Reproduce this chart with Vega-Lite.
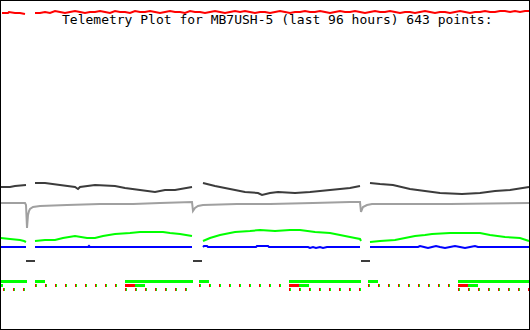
{
  "$schema": "https://vega.github.io/schema/vega-lite/v6.json",
  "width": 530,
  "height": 330,
  "autosize": {"type": "none"},
  "padding": 0,
  "background": "white",
  "config": {"view": {"stroke": "black", "strokeWidth": 2}},
  "title": {
    "text": "Telemetry Plot for MB7USH-5 (last 96 hours) 643 points:",
    "font": "DejaVu Sans Mono",
    "fontSize": 13,
    "fontWeight": "normal",
    "color": "black",
    "anchor": "start",
    "frame": "group",
    "dx": 62,
    "offset": -37,
    "baseline": "alphabetic"
  },
  "datasets": {
    "lines": [
      {"k":"A1","g":1,"x":2,"y":13},{"k":"A1","g":1,"x":8,"y":13},{"k":"A1","g":1,"x":9,"y":12},{"k":"A1","g":1,"x":15,"y":13},{"k":"A1","g":1,"x":20,"y":13},{"k":"A1","g":1,"x":25,"y":14},
      {"k":"A1","g":2,"x":35,"y":13},{"k":"A1","g":2,"x":40,"y":13},{"k":"A1","g":2,"x":45,"y":12},{"k":"A1","g":2,"x":50,"y":13},{"k":"A1","g":2,"x":55,"y":11},{"k":"A1","g":2,"x":60,"y":12},{"k":"A1","g":2,"x":65,"y":13},{"k":"A1","g":2,"x":70,"y":12},{"k":"A1","g":2,"x":75,"y":11},{"k":"A1","g":2,"x":80,"y":12},
      {"k":"A1","g":2,"x":85,"y":13},{"k":"A1","g":2,"x":90,"y":12},{"k":"A1","g":2,"x":95,"y":12},{"k":"A1","g":2,"x":100,"y":11},{"k":"A1","g":2,"x":105,"y":12},{"k":"A1","g":2,"x":110,"y":13},{"k":"A1","g":2,"x":115,"y":11},{"k":"A1","g":2,"x":120,"y":12},{"k":"A1","g":2,"x":125,"y":12},{"k":"A1","g":2,"x":130,"y":13},
      {"k":"A1","g":2,"x":135,"y":11},{"k":"A1","g":2,"x":140,"y":12},{"k":"A1","g":2,"x":145,"y":12},{"k":"A1","g":2,"x":150,"y":11},{"k":"A1","g":2,"x":155,"y":12},{"k":"A1","g":2,"x":160,"y":13},{"k":"A1","g":2,"x":165,"y":12},{"k":"A1","g":2,"x":170,"y":11},{"k":"A1","g":2,"x":175,"y":12},{"k":"A1","g":2,"x":180,"y":12},
      {"k":"A1","g":2,"x":185,"y":13},{"k":"A1","g":2,"x":190,"y":11},{"k":"A1","g":2,"x":195,"y":12},{"k":"A1","g":2,"x":200,"y":12},{"k":"A1","g":2,"x":205,"y":13},{"k":"A1","g":2,"x":210,"y":12},{"k":"A1","g":2,"x":215,"y":11},{"k":"A1","g":2,"x":220,"y":12},{"k":"A1","g":2,"x":225,"y":13},{"k":"A1","g":2,"x":230,"y":12},
      {"k":"A1","g":2,"x":235,"y":11},{"k":"A1","g":2,"x":240,"y":12},{"k":"A1","g":2,"x":245,"y":11},{"k":"A1","g":2,"x":250,"y":12},{"k":"A1","g":2,"x":255,"y":13},{"k":"A1","g":2,"x":260,"y":12},{"k":"A1","g":2,"x":265,"y":12},{"k":"A1","g":2,"x":270,"y":13},{"k":"A1","g":2,"x":275,"y":12},{"k":"A1","g":2,"x":280,"y":11},
      {"k":"A1","g":2,"x":285,"y":12},{"k":"A1","g":2,"x":290,"y":13},{"k":"A1","g":2,"x":295,"y":12},{"k":"A1","g":2,"x":300,"y":12},{"k":"A1","g":2,"x":305,"y":11},{"k":"A1","g":2,"x":310,"y":12},{"k":"A1","g":2,"x":315,"y":12},{"k":"A1","g":2,"x":320,"y":11},{"k":"A1","g":2,"x":325,"y":12},{"k":"A1","g":2,"x":330,"y":13},
      {"k":"A1","g":2,"x":335,"y":12},{"k":"A1","g":2,"x":340,"y":11},{"k":"A1","g":2,"x":345,"y":12},{"k":"A1","g":2,"x":350,"y":12},{"k":"A1","g":2,"x":355,"y":11},{"k":"A1","g":2,"x":360,"y":12},{"k":"A1","g":2,"x":365,"y":13},{"k":"A1","g":2,"x":370,"y":12},{"k":"A1","g":2,"x":375,"y":11},{"k":"A1","g":2,"x":380,"y":12},
      {"k":"A1","g":2,"x":385,"y":12},{"k":"A1","g":2,"x":390,"y":11},{"k":"A1","g":2,"x":395,"y":12},{"k":"A1","g":2,"x":400,"y":13},{"k":"A1","g":2,"x":405,"y":12},{"k":"A1","g":2,"x":410,"y":12},{"k":"A1","g":2,"x":415,"y":13},{"k":"A1","g":2,"x":420,"y":12},{"k":"A1","g":2,"x":425,"y":11},{"k":"A1","g":2,"x":430,"y":12},
      {"k":"A1","g":2,"x":435,"y":13},{"k":"A1","g":2,"x":440,"y":12},{"k":"A1","g":2,"x":445,"y":12},{"k":"A1","g":2,"x":450,"y":13},{"k":"A1","g":2,"x":455,"y":12},{"k":"A1","g":2,"x":460,"y":11},{"k":"A1","g":2,"x":465,"y":12},{"k":"A1","g":2,"x":470,"y":13},{"k":"A1","g":2,"x":475,"y":12},{"k":"A1","g":2,"x":480,"y":12},
      {"k":"A1","g":2,"x":485,"y":11},{"k":"A1","g":2,"x":490,"y":12},{"k":"A1","g":2,"x":495,"y":12},{"k":"A1","g":2,"x":500,"y":11},{"k":"A1","g":2,"x":505,"y":11},{"k":"A1","g":2,"x":510,"y":12},{"k":"A1","g":2,"x":515,"y":11},{"k":"A1","g":2,"x":520,"y":12},{"k":"A1","g":2,"x":525,"y":11},{"k":"A1","g":2,"x":529,"y":11},

      {"k":"A2","g":1,"x":1,"y":187},{"k":"A2","g":1,"x":10,"y":187},{"k":"A2","g":1,"x":15,"y":186},{"k":"A2","g":1,"x":26,"y":185},
      {"k":"A2","g":2,"x":35,"y":183},{"k":"A2","g":2,"x":45,"y":183},{"k":"A2","g":2,"x":60,"y":185},{"k":"A2","g":2,"x":75,"y":187},{"k":"A2","g":2,"x":78,"y":189},{"k":"A2","g":2,"x":80,"y":187},{"k":"A2","g":2,"x":95,"y":185},{"k":"A2","g":2,"x":115,"y":186},{"k":"A2","g":2,"x":125,"y":188},{"k":"A2","g":2,"x":140,"y":190},{"k":"A2","g":2,"x":155,"y":192},{"k":"A2","g":2,"x":165,"y":190},{"k":"A2","g":2,"x":175,"y":190},{"k":"A2","g":2,"x":192,"y":187},
      {"k":"A2","g":3,"x":203,"y":183},{"k":"A2","g":3,"x":215,"y":186},{"k":"A2","g":3,"x":230,"y":189},{"k":"A2","g":3,"x":245,"y":192},{"k":"A2","g":3,"x":258,"y":193},{"k":"A2","g":3,"x":262,"y":195},{"k":"A2","g":3,"x":270,"y":193},{"k":"A2","g":3,"x":278,"y":192},{"k":"A2","g":3,"x":295,"y":193},{"k":"A2","g":3,"x":310,"y":192},{"k":"A2","g":3,"x":330,"y":190},{"k":"A2","g":3,"x":350,"y":188},{"k":"A2","g":3,"x":360,"y":186},
      {"k":"A2","g":4,"x":370,"y":183},{"k":"A2","g":4,"x":380,"y":184},{"k":"A2","g":4,"x":393,"y":185},{"k":"A2","g":4,"x":410,"y":189},{"k":"A2","g":4,"x":425,"y":191},{"k":"A2","g":4,"x":440,"y":193},{"k":"A2","g":4,"x":462,"y":194},{"k":"A2","g":4,"x":480,"y":193},{"k":"A2","g":4,"x":495,"y":191},{"k":"A2","g":4,"x":510,"y":190},{"k":"A2","g":4,"x":529,"y":187},

      {"k":"A3","g":1,"x":1,"y":203},{"k":"A3","g":1,"x":25,"y":203},{"k":"A3","g":1,"x":26,"y":205},{"k":"A3","g":1,"x":27,"y":228},{"k":"A3","g":1,"x":28,"y":215},{"k":"A3","g":1,"x":29,"y":211},{"k":"A3","g":1,"x":30,"y":209},{"k":"A3","g":1,"x":33,"y":207},{"k":"A3","g":1,"x":40,"y":206},{"k":"A3","g":1,"x":67,"y":205},{"k":"A3","g":1,"x":100,"y":204},{"k":"A3","g":1,"x":133,"y":204},{"k":"A3","g":1,"x":160,"y":203},{"k":"A3","g":1,"x":192,"y":202},
      {"k":"A3","g":1,"x":193,"y":211},{"k":"A3","g":1,"x":195,"y":208},{"k":"A3","g":1,"x":198,"y":206},{"k":"A3","g":1,"x":203,"y":205},{"k":"A3","g":1,"x":237,"y":204},{"k":"A3","g":1,"x":270,"y":204},{"k":"A3","g":1,"x":313,"y":203},{"k":"A3","g":1,"x":350,"y":202},{"k":"A3","g":1,"x":360,"y":202},
      {"k":"A3","g":1,"x":361,"y":212},{"k":"A3","g":1,"x":363,"y":207},{"k":"A3","g":1,"x":367,"y":205},{"k":"A3","g":1,"x":372,"y":204},{"k":"A3","g":1,"x":450,"y":204},{"k":"A3","g":1,"x":529,"y":203},

      {"k":"A4","g":1,"x":1,"y":238},{"k":"A4","g":1,"x":10,"y":239},{"k":"A4","g":1,"x":20,"y":240},{"k":"A4","g":1,"x":24,"y":241},{"k":"A4","g":1,"x":26,"y":242},
      {"k":"A4","g":2,"x":35,"y":241},{"k":"A4","g":2,"x":45,"y":240},{"k":"A4","g":2,"x":55,"y":240},{"k":"A4","g":2,"x":63,"y":238},{"k":"A4","g":2,"x":75,"y":236},{"k":"A4","g":2,"x":87,"y":238},{"k":"A4","g":2,"x":95,"y":238},{"k":"A4","g":2,"x":103,"y":236},{"k":"A4","g":2,"x":115,"y":234},{"k":"A4","g":2,"x":130,"y":233},{"k":"A4","g":2,"x":140,"y":232},{"k":"A4","g":2,"x":163,"y":232},{"k":"A4","g":2,"x":170,"y":233},{"k":"A4","g":2,"x":180,"y":234},{"k":"A4","g":2,"x":192,"y":236},
      {"k":"A4","g":3,"x":203,"y":241},{"k":"A4","g":3,"x":210,"y":238},{"k":"A4","g":3,"x":220,"y":235},{"k":"A4","g":3,"x":235,"y":232},{"k":"A4","g":3,"x":250,"y":231},{"k":"A4","g":3,"x":260,"y":230},{"k":"A4","g":3,"x":275,"y":231},{"k":"A4","g":3,"x":290,"y":230},{"k":"A4","g":3,"x":300,"y":230},{"k":"A4","g":3,"x":315,"y":232},{"k":"A4","g":3,"x":330,"y":233},{"k":"A4","g":3,"x":345,"y":236},{"k":"A4","g":3,"x":355,"y":238},{"k":"A4","g":3,"x":360,"y":239},{"k":"A4","g":3,"x":361,"y":241},
      {"k":"A4","g":4,"x":370,"y":242},{"k":"A4","g":4,"x":380,"y":241},{"k":"A4","g":4,"x":395,"y":240},{"k":"A4","g":4,"x":405,"y":238},{"k":"A4","g":4,"x":415,"y":236},{"k":"A4","g":4,"x":425,"y":235},{"k":"A4","g":4,"x":432,"y":234},{"k":"A4","g":4,"x":450,"y":233},{"k":"A4","g":4,"x":480,"y":233},{"k":"A4","g":4,"x":490,"y":235},{"k":"A4","g":4,"x":505,"y":237},{"k":"A4","g":4,"x":520,"y":238},{"k":"A4","g":4,"x":529,"y":241},

      {"k":"A5","g":1,"x":1,"y":247},{"k":"A5","g":1,"x":26,"y":247},
      {"k":"A5","g":2,"x":35,"y":247},{"k":"A5","g":2,"x":88,"y":247},{"k":"A5","g":2,"x":89,"y":246},{"k":"A5","g":2,"x":90,"y":247},{"k":"A5","g":2,"x":192,"y":247},
      {"k":"A5","g":3,"x":203,"y":247},{"k":"A5","g":3,"x":204,"y":246},{"k":"A5","g":3,"x":207,"y":246},{"k":"A5","g":3,"x":208,"y":247},{"k":"A5","g":3,"x":256,"y":247},{"k":"A5","g":3,"x":257,"y":246},{"k":"A5","g":3,"x":268,"y":246},{"k":"A5","g":3,"x":269,"y":247},{"k":"A5","g":3,"x":308,"y":247},{"k":"A5","g":3,"x":310,"y":248},{"k":"A5","g":3,"x":313,"y":247},{"k":"A5","g":3,"x":316,"y":248},{"k":"A5","g":3,"x":320,"y":247},{"k":"A5","g":3,"x":323,"y":248},{"k":"A5","g":3,"x":327,"y":247},{"k":"A5","g":3,"x":360,"y":247},
      {"k":"A5","g":4,"x":370,"y":247},{"k":"A5","g":4,"x":418,"y":247},{"k":"A5","g":4,"x":420,"y":246},{"k":"A5","g":4,"x":424,"y":247},{"k":"A5","g":4,"x":428,"y":248},{"k":"A5","g":4,"x":432,"y":247},{"k":"A5","g":4,"x":436,"y":246},{"k":"A5","g":4,"x":440,"y":247},{"k":"A5","g":4,"x":445,"y":248},{"k":"A5","g":4,"x":450,"y":247},{"k":"A5","g":4,"x":455,"y":246},{"k":"A5","g":4,"x":460,"y":247},{"k":"A5","g":4,"x":465,"y":248},{"k":"A5","g":4,"x":470,"y":247},{"k":"A5","g":4,"x":475,"y":246},{"k":"A5","g":4,"x":478,"y":247},{"k":"A5","g":4,"x":529,"y":247}
    ],
    "gaps": [
      {"k":"gap","x":26,"x2":35,"y":261},
      {"k":"gap","x":193,"x2":202,"y":261},
      {"k":"gap","x":361,"x2":370,"y":261}
    ],
    "bits": [
      {"k":"on","x":1,"x2":27,"y":281.5},{"k":"on","x":35,"x2":45,"y":281.5},{"k":"on","x":125,"x2":193,"y":281.5},{"k":"on","x":199,"x2":209,"y":281.5},{"k":"on","x":289,"x2":361,"y":281.5},{"k":"on","x":368,"x2":378,"y":281.5},{"k":"on","x":458,"x2":529,"y":281.5},

      {"k":"on","x":1,"x2":3,"y":285.5},
      {"k":"off","x":35,"x2":36,"y":285.5},{"k":"on","x":36,"x2":37,"y":285.5},
      {"k":"off","x":45,"x2":46,"y":285.5},{"k":"on","x":46,"x2":47,"y":285.5},
      {"k":"off","x":55,"x2":56,"y":285.5},{"k":"on","x":56,"x2":57,"y":285.5},
      {"k":"off","x":65,"x2":66,"y":285.5},{"k":"on","x":66,"x2":67,"y":285.5},
      {"k":"off","x":75,"x2":76,"y":285.5},{"k":"on","x":76,"x2":77,"y":285.5},
      {"k":"off","x":85,"x2":86,"y":285.5},{"k":"on","x":86,"x2":87,"y":285.5},
      {"k":"off","x":95,"x2":96,"y":285.5},{"k":"on","x":96,"x2":97,"y":285.5},
      {"k":"off","x":105,"x2":106,"y":285.5},{"k":"on","x":106,"x2":107,"y":285.5},
      {"k":"off","x":115,"x2":116,"y":285.5},{"k":"on","x":116,"x2":117,"y":285.5},
      {"k":"off","x":125,"x2":135,"y":285.5},{"k":"on","x":135,"x2":145,"y":285.5},
      {"k":"off","x":199,"x2":200,"y":285.5},{"k":"on","x":200,"x2":201,"y":285.5},
      {"k":"off","x":209,"x2":210,"y":285.5},{"k":"on","x":210,"x2":211,"y":285.5},
      {"k":"off","x":219,"x2":220,"y":285.5},{"k":"on","x":220,"x2":221,"y":285.5},
      {"k":"off","x":229,"x2":230,"y":285.5},{"k":"on","x":230,"x2":231,"y":285.5},
      {"k":"off","x":239,"x2":240,"y":285.5},{"k":"on","x":240,"x2":241,"y":285.5},
      {"k":"off","x":249,"x2":250,"y":285.5},{"k":"on","x":250,"x2":251,"y":285.5},
      {"k":"off","x":259,"x2":260,"y":285.5},{"k":"on","x":260,"x2":261,"y":285.5},
      {"k":"off","x":269,"x2":270,"y":285.5},{"k":"on","x":270,"x2":271,"y":285.5},
      {"k":"off","x":279,"x2":280,"y":285.5},{"k":"on","x":280,"x2":281,"y":285.5},
      {"k":"off","x":289,"x2":299,"y":285.5},{"k":"on","x":299,"x2":309,"y":285.5},
      {"k":"off","x":368,"x2":369,"y":285.5},{"k":"on","x":369,"x2":370,"y":285.5},
      {"k":"off","x":378,"x2":379,"y":285.5},{"k":"on","x":379,"x2":380,"y":285.5},
      {"k":"off","x":388,"x2":389,"y":285.5},{"k":"on","x":389,"x2":390,"y":285.5},
      {"k":"off","x":398,"x2":399,"y":285.5},{"k":"on","x":399,"x2":400,"y":285.5},
      {"k":"off","x":408,"x2":409,"y":285.5},{"k":"on","x":409,"x2":410,"y":285.5},
      {"k":"off","x":418,"x2":419,"y":285.5},{"k":"on","x":419,"x2":420,"y":285.5},
      {"k":"off","x":428,"x2":429,"y":285.5},{"k":"on","x":429,"x2":430,"y":285.5},
      {"k":"off","x":438,"x2":439,"y":285.5},{"k":"on","x":439,"x2":440,"y":285.5},
      {"k":"off","x":448,"x2":449,"y":285.5},{"k":"on","x":449,"x2":450,"y":285.5},
      {"k":"off","x":458,"x2":468,"y":285.5},{"k":"on","x":468,"x2":478,"y":285.5},

      {"k":"off","x":3,"x2":4,"y":289.5},{"k":"on","x":4,"x2":5,"y":289.5},
      {"k":"off","x":13,"x2":14,"y":289.5},{"k":"on","x":14,"x2":15,"y":289.5},
      {"k":"off","x":23,"x2":24,"y":289.5},{"k":"on","x":24,"x2":25,"y":289.5},
      {"k":"off","x":125,"x2":126,"y":289.5},{"k":"on","x":126,"x2":127,"y":289.5},
      {"k":"off","x":135,"x2":136,"y":289.5},{"k":"on","x":136,"x2":137,"y":289.5},
      {"k":"off","x":145,"x2":146,"y":289.5},{"k":"on","x":146,"x2":147,"y":289.5},
      {"k":"off","x":155,"x2":156,"y":289.5},{"k":"on","x":156,"x2":157,"y":289.5},
      {"k":"off","x":165,"x2":166,"y":289.5},{"k":"on","x":166,"x2":167,"y":289.5},
      {"k":"off","x":175,"x2":176,"y":289.5},{"k":"on","x":176,"x2":177,"y":289.5},
      {"k":"off","x":185,"x2":186,"y":289.5},{"k":"on","x":186,"x2":187,"y":289.5},
      {"k":"off","x":289,"x2":290,"y":289.5},{"k":"on","x":290,"x2":291,"y":289.5},
      {"k":"off","x":299,"x2":300,"y":289.5},{"k":"on","x":300,"x2":301,"y":289.5},
      {"k":"off","x":309,"x2":310,"y":289.5},{"k":"on","x":310,"x2":311,"y":289.5},
      {"k":"off","x":319,"x2":320,"y":289.5},{"k":"on","x":320,"x2":321,"y":289.5},
      {"k":"off","x":329,"x2":330,"y":289.5},{"k":"on","x":330,"x2":331,"y":289.5},
      {"k":"off","x":339,"x2":340,"y":289.5},{"k":"on","x":340,"x2":341,"y":289.5},
      {"k":"off","x":349,"x2":350,"y":289.5},{"k":"on","x":350,"x2":351,"y":289.5},
      {"k":"off","x":359,"x2":360,"y":289.5},{"k":"on","x":360,"x2":361,"y":289.5},
      {"k":"off","x":458,"x2":459,"y":289.5},{"k":"on","x":459,"x2":460,"y":289.5},
      {"k":"off","x":468,"x2":469,"y":289.5},{"k":"on","x":469,"x2":470,"y":289.5},
      {"k":"off","x":478,"x2":479,"y":289.5},{"k":"on","x":479,"x2":480,"y":289.5},
      {"k":"off","x":488,"x2":489,"y":289.5},{"k":"on","x":489,"x2":490,"y":289.5},
      {"k":"off","x":498,"x2":499,"y":289.5},{"k":"on","x":499,"x2":500,"y":289.5},
      {"k":"off","x":508,"x2":509,"y":289.5},{"k":"on","x":509,"x2":510,"y":289.5},
      {"k":"off","x":518,"x2":519,"y":289.5},{"k":"on","x":519,"x2":520,"y":289.5},
      {"k":"off","x":528,"x2":529,"y":289.5}
    ]
  },
  "encoding": {
    "x": {"field": "x", "type": "quantitative", "axis": null, "scale": {"domain": [0, 530], "nice": false, "zero": false}},
    "y": {"field": "y", "type": "quantitative", "axis": null, "scale": {"domain": [0, 330], "nice": false, "zero": false, "reverse": true}},
    "color": {
      "field": "k", "type": "nominal", "legend": null,
      "scale": {
        "domain": ["A1", "A2", "A3", "A4", "A5", "gap", "on", "off"],
        "range": ["#ff0000", "#3c3c3c", "#a0a0a0", "#00ff00", "#0000ff", "#3c3c3c", "#00ff00", "#ff0000"]
      }
    }
  },
  "layer": [
    {
      "data": {"name": "lines"},
      "mark": {"type": "line", "strokeWidth": 2, "strokeCap": "butt", "strokeJoin": "miter"},
      "encoding": {"detail": {"field": "g"}}
    },
    {
      "data": {"name": "gaps"},
      "mark": {"type": "rule", "strokeWidth": 2, "strokeCap": "butt"},
      "encoding": {"x2": {"field": "x2"}}
    },
    {
      "data": {"name": "bits"},
      "mark": {"type": "rule", "strokeWidth": 3, "strokeCap": "butt"},
      "encoding": {"x2": {"field": "x2"}}
    }
  ]
}
